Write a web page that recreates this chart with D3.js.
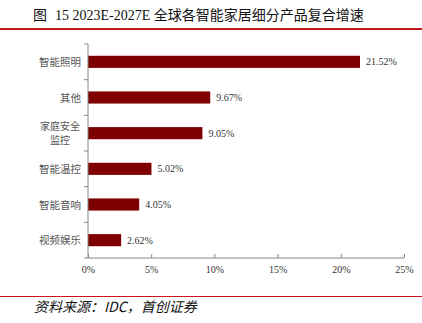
<!DOCTYPE html>
<html><head><meta charset="utf-8">
<script src="https://cdn.jsdelivr.net/npm/d3@7/dist/d3.min.js"></script>
<style>body{margin:0;background:#fff}</style>
</head><body>
<svg id="c" width="422" height="323"></svg>
<script>
const categories = ["智能照明","其他","家庭安全监控","智能温控","智能音响","视频娱乐"];
const values = [21.52, 9.67, 9.05, 5.02, 4.05, 2.62];
const valueLabels = ["21.52%","9.67%","9.05%","5.02%","4.05%","2.62%"];
const xTicks = [0,5,10,15,20,25];
const titlePrefix = "图";
const title = "15 2023E-2027E 全球各智能家居细分产品复合增速";
const source = "资料来源：IDC，首创证券";

const svg = d3.select("#c");
const serif = "'Liberation Serif','DejaVu Serif',serif";
const cjk = "'Noto Sans CJK SC','Liberation Serif',serif";

// title
svg.append("text").attr("x",33).attr("y",20).attr("font-family",cjk)
  .attr("font-size",14).attr("fill","#111").text(titlePrefix);
svg.append("text").attr("x",55).attr("y",20).attr("font-family","'Liberation Serif','Noto Sans CJK SC',serif")
  .attr("font-size",14).attr("fill","#111").text(title);
svg.append("rect").attr("x",0).attr("y",28).attr("width",422).attr("height",2).attr("fill","#c8161d");

const x = d3.scaleLinear().domain([0,25]).range([88,404]);
const y = d3.scaleBand().domain(categories).range([44,258]).paddingInner(0.66).paddingOuter(0.33);

// bars
svg.selectAll("rect.bar").data(values).enter().append("rect").attr("class","bar")
  .attr("x",x(0)).attr("y",(d,i)=>y(categories[i])).attr("width",d=>x(d)-x(0)).attr("height",y.bandwidth())
  .attr("fill","#7f0000");

// value labels
svg.selectAll("text.v").data(values).enter().append("text").attr("class","v")
  .attr("x",d=>x(d)+6).attr("y",(d,i)=>y(categories[i])+y.bandwidth()/2+3.5)
  .attr("font-family",serif).attr("font-size",10).attr("fill","#333").text((d,i)=>valueLabels[i]);

// x axis
const xa = svg.append("g").attr("transform","translate(0,258)")
  .call(d3.axisBottom(x).tickValues(xTicks).tickSize(-4).tickPadding(8).tickFormat(d=>d+"%"));
xa.selectAll("path,line").attr("stroke","#888");
xa.select(".domain").attr("d","M88,0H404");
xa.selectAll("text").attr("font-family",serif).attr("font-size",10).attr("fill","#333");

// y axis
const yTickPos = d3.range(categories.length+1).map(i=>44+i*(214/categories.length));
svg.append("line").attr("x1",88).attr("x2",88).attr("y1",44).attr("y2",258).attr("stroke","#888");
svg.selectAll("line.yt").data(yTickPos).enter().append("line").attr("class","yt")
  .attr("x1",84).attr("x2",88).attr("y1",d=>d).attr("y2",d=>d).attr("stroke","#888");

// category labels
categories.forEach((c,i)=>{
  const cy = y(c)+y.bandwidth()/2;
  if (c.length > 4) {
    svg.append("text").attr("text-anchor","end").attr("font-family",cjk).attr("font-size",10).attr("fill","#555")
      .attr("x",80).attr("y",cy-3).text(c.slice(0,4));
    svg.append("text").attr("text-anchor","middle").attr("font-family",cjk).attr("font-size",10).attr("fill","#555")
      .attr("x",60).attr("y",cy+11).text(c.slice(4));
  } else {
    svg.append("text").attr("text-anchor","end").attr("font-family",cjk).attr("font-size",10.5).attr("fill","#555")
      .attr("x",81).attr("y",cy+4).text(c);
  }
});

// footer
svg.append("rect").attr("x",0).attr("y",296).attr("width",422).attr("height",1).attr("fill","#c8161d");
svg.append("text").attr("x",34).attr("y",312).attr("font-family",cjk).attr("font-style","italic")
  .attr("font-size",14).attr("fill","#111").text(source);
</script>
</body></html>
